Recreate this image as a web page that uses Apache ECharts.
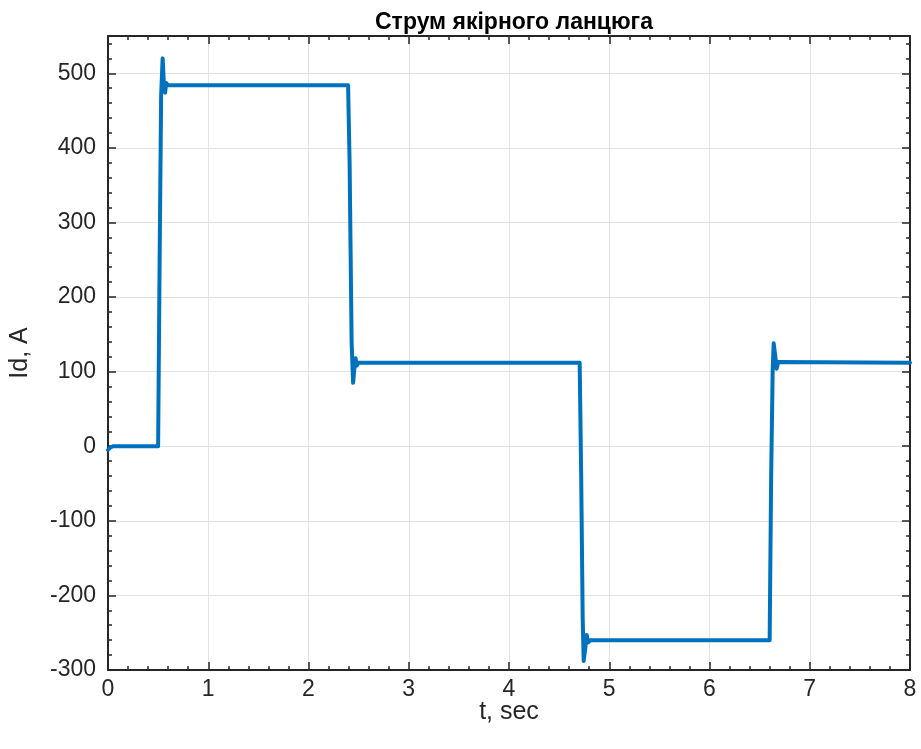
<!DOCTYPE html>
<html>
<head>
<meta charset="utf-8">
<script src="https://cdn.jsdelivr.net/npm/echarts@6/dist/echarts.min.js"></script>
<style>html,body{margin:0;padding:0;background:#fff;}#c{width:921px;height:749px;}</style>
</head>
<body>
<div id="c"></div>
<script>
const titleText = 'Струм якірного ланцюга';
const xName = 't, sec';
const yName = 'Id, A';
const tValues = [0, 0.02, 0.05, 0.5, 0.515, 0.53, 0.545, 0.56, 0.57, 0.58, 0.6,
  2.395, 2.41, 2.43, 2.445, 2.46, 2.47, 2.48, 2.5,
  4.705, 4.72, 4.735, 4.745, 4.76, 4.775, 4.79, 4.81,
  6.6, 6.615, 6.63, 6.64, 6.655, 6.67, 6.685, 6.7, 8];
const idValues = [-5, -2, 0, 0, 250, 470, 520, 478, 474, 487, 484,
  484, 380, 140, 85, 108, 118, 108, 112,
  112, -40, -230, -288, -272, -253, -263, -260,
  -260, -40, 100, 138, 122, 104, 113, 112, 112];
const xTicks = [0, 1, 2, 3, 4, 5, 6, 7, 8];
const yTicks = [-300, -200, -100, 0, 100, 200, 300, 400, 500];

const data = tValues.map((t, i) => [t, idValues[i]]);
const axisColor = '#262626';
const font = 'Liberation Sans, Arial, sans-serif';
const chart = echarts.init(document.getElementById('c'), null, {renderer: 'canvas'});
const baseAxis = {
  axisLine: {show: true, onZero: false, lineStyle: {color: axisColor, width: 2}},
  axisTick: {show: true, inside: true, length: 8, lineStyle: {color: axisColor, width: 1.5}},
  minorTick: {show: true, splitNumber: 5, length: 4, lineStyle: {color: axisColor, width: 1.5}},
};
chart.setOption({
  animation: false,
  title: {text: titleText, left: 509, top: 6, textAlign: 'center',
    textStyle: {fontFamily: font, fontWeight: 'bold', fontSize: 23, color: '#000'}},
  grid: {left: 108, right: 11, top: 36, bottom: 79, containLabel: false},
  xAxis: [
    Object.assign({}, baseAxis, {
      type: 'value', min: xTicks[0], max: xTicks[xTicks.length - 1], interval: 1, position: 'bottom',
      name: xName, nameLocation: 'middle', nameGap: 30, nameMoveOverlap: false,
      nameTextStyle: {fontFamily: font, fontSize: 25, color: axisColor},
      axisLabel: {fontFamily: font, fontSize: 23, color: axisColor, margin: 8},
      splitLine: {show: true, lineStyle: {color: '#e3e3e3', width: 1}}
    }),
    Object.assign({}, baseAxis, {
      type: 'value', min: xTicks[0], max: xTicks[xTicks.length - 1], interval: 1, position: 'top',
      axisLabel: {show: false}, splitLine: {show: false}
    })
  ],
  yAxis: [
    Object.assign({}, baseAxis, {
      type: 'value', min: yTicks[0], max: 550, interval: 100, position: 'left',
      name: yName, nameLocation: 'middle', nameGap: 75, nameMoveOverlap: false,
      nameTextStyle: {fontFamily: font, fontSize: 25, color: axisColor},
      axisLabel: {fontFamily: font, fontSize: 23, color: axisColor, margin: 12,
        formatter: v => (yTicks.indexOf(v) >= 0 ? String(v) : '')},
      splitLine: {show: true, lineStyle: {color: '#e3e3e3', width: 1}}
    }),
    Object.assign({}, baseAxis, {
      type: 'value', min: yTicks[0], max: 550, interval: 100, position: 'right',
      axisLabel: {show: false}, splitLine: {show: false}
    })
  ],
  series: [{
    type: 'line', data: data, xAxisIndex: 0, yAxisIndex: 0,
    showSymbol: false, symbol: 'none', smooth: false,
    lineStyle: {color: '#0072BD', width: 4, join: 'round', cap: 'round'},
    clip: true
  }]
});
</script>
</body>
</html>
